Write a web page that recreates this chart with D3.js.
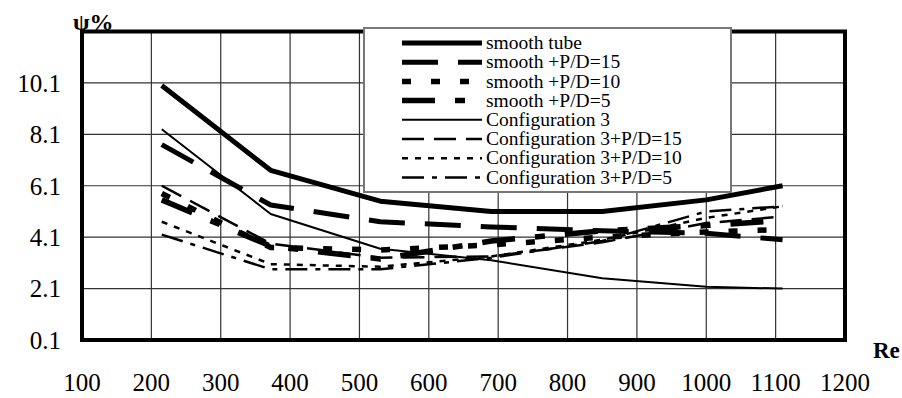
<!DOCTYPE html>
<html>
<head>
<meta charset="utf-8">
<script src="https://cdn.jsdelivr.net/npm/d3@7"></script>
<style>
  body { margin: 0; background: #fff; }
</style>
</head>
<body>
<div id="chart"></div>
<script>
// Reynolds numbers of the measured points
var reValues = [215, 372, 530, 690, 850, 1000, 1110];
var xTicks = [100, 200, 300, 400, 500, 600, 700, 800, 900, 1000, 1100, 1200];
var yTicks = [0.1, 2.1, 4.1, 6.1, 8.1, 10.1];
var yGrid = [2.1, 4.1, 6.1, 8.1, 10.1];

var seriesNames = ["smooth tube", "smooth +P/D=15", "smooth +P/D=10", "smooth +P/D=5",
  "Configuration 3", "Configuration 3+P/D=15", "Configuration 3+P/D=10", "Configuration 3+P/D=5"];
var smoothTube = [10.0, 6.7, 5.5, 5.1, 5.1, 5.55, 6.1];
var smoothPD15 = [7.7, 5.35, 4.7, 4.5, 4.35, 4.25, 4.0];
var smoothPD10 = [5.8, 3.7, 3.6, 3.8, 4.1, 4.3, 4.4];
var smoothPD5 = [5.55, 3.75, 3.25, 3.95, 4.35, 4.55, 4.75];
var config3 = [8.3, 5.0, 3.65, 3.2, 2.5, 2.17, 2.1];
var config3PD15 = [6.1, 3.85, 3.3, 3.35, 3.9, 4.65, 4.9];
var config3PD10 = [4.7, 3.05, 2.95, 3.35, 4.0, 4.85, 5.3];
var config3PD5 = [4.2, 2.85, 2.85, 3.3, 3.95, 5.1, 5.3];
var seriesValues = [smoothTube, smoothPD15, smoothPD10, smoothPD5, config3, config3PD15, config3PD10, config3PD5];

// line styles, same order as the series
var widths = [5, 5, 5.5, 5.5, 2, 2.5, 2.5, 2.5];
var dashes = [null, "36,20", "9,20", "33,20,10,20", null, "22,10", "6,7", "22,8,5,8"];

var serif = "'Liberation Serif', Tinos, 'Times New Roman', 'DejaVu Serif', 'Noto Serif', serif";

var width = 902, height = 398;
var svg = d3.select("#chart").append("svg")
    .attr("width", width)
    .attr("height", height)
    .style("display", "block")
    .attr("font-family", serif);

var x = d3.scaleLinear().domain([100, 1200]).range([82, 845]);
var y = d3.scaleLinear().domain([0.1, 12.1]).range([340, 31.5]);

//grid
svg.append("g").selectAll("line")
    .data(xTicks.slice(1, -1))
    .enter().append("line")
    .attr("x1", function(d) { return x(d); })
    .attr("x2", function(d) { return x(d); })
    .attr("y1", y(12.1))
    .attr("y2", y(0.1))
    .attr("stroke", "#333")
    .attr("stroke-width", 1.2);
svg.append("g").selectAll("line")
    .data(yGrid)
    .enter().append("line")
    .attr("x1", x(100))
    .attr("x2", x(1200))
    .attr("y1", function(d) { return y(d); })
    .attr("y2", function(d) { return y(d); })
    .attr("stroke", "#333")
    .attr("stroke-width", 1.2);

//series lines
var line = d3.line()
    .x(function(d) { return x(d[0]); })
    .y(function(d) { return y(d[1]); });
seriesValues.forEach(function(vals, i) {
  svg.append("path")
      .datum(d3.zip(reValues, vals))
      .attr("fill", "none")
      .attr("stroke", "#000")
      .attr("stroke-width", widths[i])
      .attr("stroke-dasharray", dashes[i])
      .attr("stroke-linejoin", "round")
      .attr("d", line);
});

//frame
svg.append("rect")
    .attr("x", x(100))
    .attr("y", y(12.1))
    .attr("width", x(1200) - x(100))
    .attr("height", y(0.1) - y(12.1))
    .attr("fill", "none")
    .attr("stroke", "#000")
    .attr("stroke-width", 4);

//tick labels
svg.append("g").selectAll("text")
    .data(yTicks)
    .enter().append("text")
    .attr("x", 61)
    .attr("y", function(d) { return y(d); })
    .attr("dy", "0.35em")
    .attr("text-anchor", "end")
    .attr("font-size", 25)
    .text(function(d) { return d3.format(".1f")(d); });
svg.append("g").selectAll("text")
    .data(xTicks)
    .enter().append("text")
    .attr("x", function(d) { return x(d); })
    .attr("y", 391)
    .attr("text-anchor", "middle")
    .attr("font-size", 25)
    .attr("textLength", function(d) { return d >= 1000 ? 50 : null; })
    .attr("lengthAdjust", "spacingAndGlyphs")
    .text(function(d) { return d; });

//axis titles
svg.append("text")
    .attr("x", 73)
    .attr("y", 30)
    .attr("font-size", 24)
    .attr("font-weight", "bold")
    .text("ψ%");
svg.append("text")
    .attr("x", 873)
    .attr("y", 358)
    .attr("font-size", 23)
    .attr("font-weight", "bold")
    .text("Re");

//legend
var legend = svg.append("g");
legend.append("rect")
    .attr("x", 364)
    .attr("y", 28)
    .attr("width", 367)
    .attr("height", 164)
    .attr("fill", "#fff")
    .attr("stroke", "#777")
    .attr("stroke-width", 2);
var rows = legend.selectAll("g.row")
    .data(seriesNames)
    .enter().append("g")
    .attr("class", "row")
    .attr("transform", function(d, i) { return "translate(0," + (43 + i * 19.2) + ")"; });
rows.append("line")
    .attr("x1", 402)
    .attr("x2", 482)
    .attr("stroke", "#000")
    .attr("stroke-width", function(d, i) { return widths[i]; })
    .attr("stroke-dasharray", function(d, i) { return dashes[i]; });
rows.append("text")
    .attr("x", 486)
    .attr("dy", "0.32em")
    .attr("font-size", 19.5)
    .text(function(d) { return d; });
</script>
</body>
</html>
